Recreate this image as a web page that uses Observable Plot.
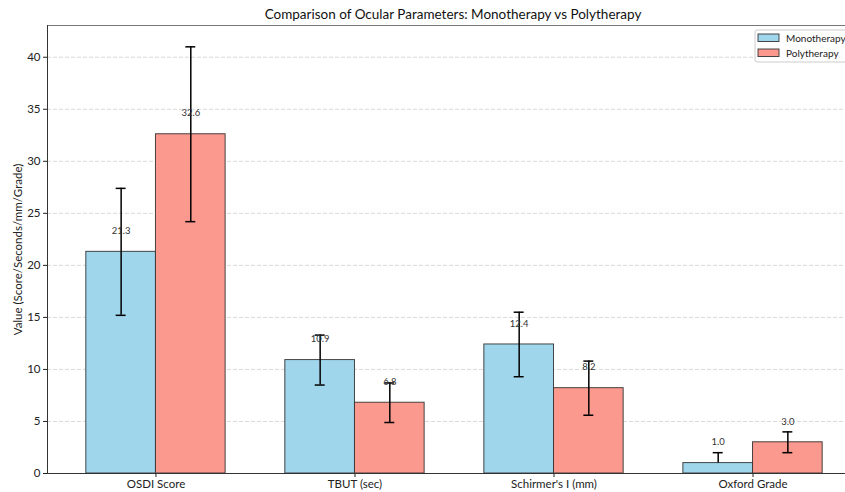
<!DOCTYPE html>
<html>
<head>
<meta charset="utf-8">
<script src="https://cdn.jsdelivr.net/npm/d3@7"></script>
<script src="https://cdn.jsdelivr.net/npm/@observablehq/plot@0.6"></script>
<style>
  html, body { margin: 0; padding: 0; background: #fff; overflow: hidden; }
  #chart { width: 845px; height: 492px; overflow: hidden; }
  #chart svg { max-width: none !important; }
</style>
</head>
<body>
<div id="chart"></div>
<script>
const categories = ["OSDI Score", "TBUT (sec)", "Schirmer's I (mm)", "Oxford Grade"];
const groups = ["Monotherapy", "Polytherapy"];
const monoValues = [21.3, 10.9, 12.4, 1.0];
const polyValues = [32.6, 6.8, 8.2, 3.0];
const monoErrLow = [6.1, 2.4, 3.1, 0.0];
const monoErrHigh = [6.1, 2.4, 3.1, 1.0];
const polyErrLow = [8.4, 1.9, 2.6, 1.0];
const polyErrHigh = [8.4, 1.9, 2.6, 1.0];
const yTicks = [0, 5, 10, 15, 20, 25, 30, 35, 40];
const colors = {Monotherapy: "#a0d6ec", Polytherapy: "#fb998e"};

const barW = 0.35;
const rows = [];
categories.forEach((c, i) => {
  rows.push({cat: c, i, group: "Monotherapy", value: monoValues[i], lo: monoValues[i] - monoErrLow[i], hi: monoValues[i] + monoErrHigh[i], x1: i - barW, x2: i});
  rows.push({cat: c, i, group: "Polytherapy", value: polyValues[i], lo: polyValues[i] - polyErrLow[i], hi: polyValues[i] + polyErrHigh[i], x1: i, x2: i + barW});
});
rows.forEach(d => { d.xc = (d.x1 + d.x2) / 2; });
const ymax = d3.max(rows, d => d.hi) * 1.05;
const capHalf = 0.025;
const font = "Lato, 'Open Sans', sans-serif";

const plot = Plot.plot({
  width: 858,
  height: 492,
  marginLeft: 47,
  marginRight: 0,
  marginTop: 25,
  marginBottom: 19,
  style: {fontFamily: font, fontSize: "11.5px", color: "#222", background: "#fff", maxWidth: "none"},
  x: {domain: [-0.545, 3.53], ticks: [0, 1, 2, 3], tickFormat: d => categories[d], tickSize: 4, tickPadding: 2, label: null},
  y: {domain: [0, ymax], ticks: yTicks, tickSize: 4, tickPadding: 3, label: "Value (Score/Seconds/mm/Grade)", labelAnchor: "center", labelArrow: "none", labelOffset: 34},
  marks: [
    Plot.gridY(yTicks, {stroke: "#bbb", strokeOpacity: 0.7, strokeDasharray: "4,2", strokeWidth: 0.8}),
    Plot.rect(rows, {x1: "x1", x2: "x2", y1: 0, y2: "value", fill: d => colors[d.group], stroke: "#333", strokeWidth: 1, strokeOpacity: 0.9}),
    Plot.ruleX(rows, {x: "xc", y1: "lo", y2: "hi", stroke: "#000", strokeWidth: 1.5}),
    Plot.ruleY(rows, {y: "hi", x1: d => d.xc - capHalf, x2: d => d.xc + capHalf, stroke: "#000", strokeWidth: 1.5}),
    Plot.ruleY(rows.filter(d => d.lo < d.value), {y: "lo", x1: d => d.xc - capHalf, x2: d => d.xc + capHalf, stroke: "#000", strokeWidth: 1.5}),
    Plot.text(rows, {x: "xc", y: d => d.value + 2, text: d => d.value.toFixed(1), fontSize: 9.5, fill: "#333"}),
    Plot.frame({anchor: "top", stroke: "#777"}),
    Plot.frame({anchor: "left", stroke: "#333"}),
    Plot.frame({anchor: "bottom", stroke: "#333"}),
    Plot.text(["Comparison of Ocular Parameters: Monotherapy vs Polytherapy"], {frameAnchor: "top", dy: -11, fontSize: 13.5, fill: "#111", lineAnchor: "middle"})
  ]
});

// legend
const svg = d3.select(plot);
const lg = svg.append("g").attr("font-family", font).attr("font-size", 10).attr("text-anchor", "start");
lg.append("rect").attr("x", 755).attr("y", 30).attr("width", 110).attr("height", 32).attr("rx", 2)
  .attr("fill", "#fff").attr("fill-opacity", 0.8).attr("stroke", "#ccc");
groups.forEach((g, k) => {
  const y = 34 + k * 15;
  lg.append("rect").attr("x", 758).attr("y", y).attr("width", 21).attr("height", 7.5)
    .attr("fill", colors[g]).attr("stroke", "#333").attr("stroke-opacity", 0.9);
  lg.append("text").attr("x", 786).attr("y", y + 4).attr("dy", "0.35em").attr("fill", "#222").text(g);
});

document.getElementById("chart").appendChild(plot);
</script>
</body>
</html>
